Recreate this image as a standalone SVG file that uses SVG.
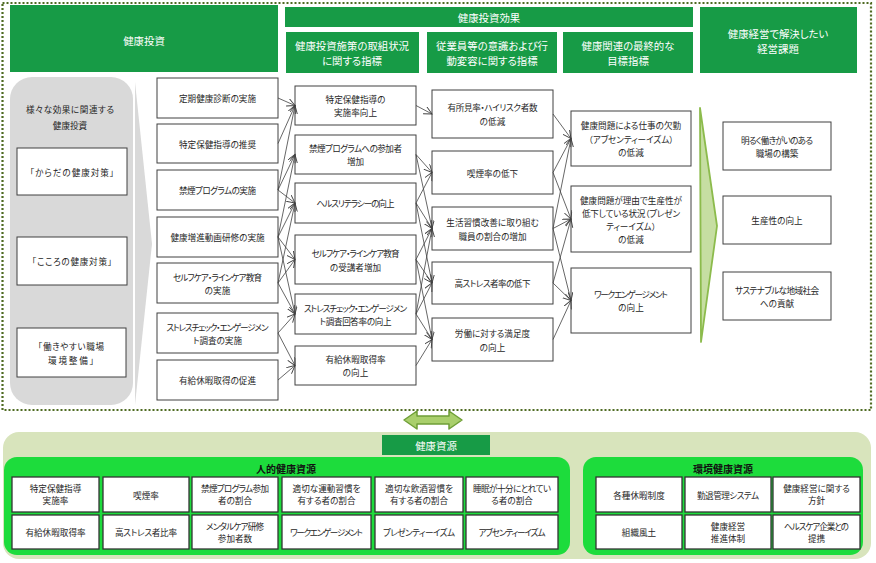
<svg xmlns="http://www.w3.org/2000/svg" width="876" height="563" viewBox="0 0 876 563">
<style>
.bx{fill:#fff;stroke:#404040;stroke-width:1}
.bb{fill:#fff;stroke:#333;stroke-width:1.3}
.hd{fill:#179b46}
.t{font-family:"Noto Sans CJK JP","Noto Sans CJK SC",sans-serif;font-size:8.6px;fill:#262626;text-anchor:middle;dominant-baseline:central;font-feature-settings:"palt"}
.h{font-family:"Noto Sans CJK JP","Noto Sans CJK SC",sans-serif;font-size:10.4px;fill:#fff;text-anchor:middle;dominant-baseline:central;font-feature-settings:"palt"}
.tb{font-family:"Noto Sans CJK JP","Noto Sans CJK SC",sans-serif;font-size:10px;font-weight:bold;fill:#111;text-anchor:middle;dominant-baseline:central}
.cn{stroke:#404040;stroke-width:0.8;fill:none;marker-end:url(#ar)}
</style>
<defs>
<marker id="ar" markerUnits="userSpaceOnUse" markerWidth="10" markerHeight="10" refX="8" refY="4" orient="auto">
<path d="M0,0 L8,4 L0,8" fill="none" stroke="#404040" stroke-width="0.9"/>
</marker>
</defs>
<rect width="876" height="563" fill="#fff"/>

<!-- outer dotted frame -->
<rect x="2.5" y="3" width="868.5" height="407" fill="none" stroke="#4f6b22" stroke-width="2.2" stroke-dasharray="2 2"/>

<!-- headers -->
<g id="h-invest"><rect class="hd" x="10" y="5" width="268" height="67"/><text class="h" x="144" y="40">健康投資</text></g>
<g id="h-effect"><rect class="hd" x="285" y="7" width="408" height="20"/><text class="h" x="489" y="17">健康投資効果</text></g>
<g id="h-sub1"><rect class="hd" x="286" y="32" width="133" height="41"/><text class="h" x="352" y="45">健康投資施策の取組状況</text><text class="h" x="352" y="60">に関する指標</text></g>
<g id="h-sub2"><rect class="hd" x="427" y="32" width="130" height="41"/><text class="h" x="492" y="45">従業員等の意識および行</text><text class="h" x="492" y="60">動変容に関する指標</text></g>
<g id="h-sub3"><rect class="hd" x="563" y="32" width="130" height="41"/><text class="h" x="628" y="45">健康関連の最終的な</text><text class="h" x="628" y="60">目標指標</text></g>
<g id="h-issue"><rect class="hd" x="700" y="7" width="157" height="66"/><text class="h" x="778" y="33">健康経営で解決したい</text><text class="h" x="778" y="48">経営課題</text></g>

<!-- left grey panel -->
<g id="left-panel">
<rect x="10" y="77" width="123" height="328" rx="22" fill="#d9d9d9"/>
<polygon points="135,82 152,244 135,405" fill="#d9d9d9"/>
<text class="t" x="70" y="109" textLength="88">様々な効果に関連する</text>
<text class="t" x="70" y="125">健康投資</text>
</g>
<g id="l1"><rect class="bx" x="17" y="148" width="110" height="47"/><text class="t" x="72" y="171.5" textLength="84">「からだの健康対策」</text></g>
<g id="l2"><rect class="bx" x="17" y="237" width="110" height="48"/><text class="t" x="72" y="261" textLength="80">「こころの健康対策」</text></g>
<g id="l3"><rect class="bx" x="17" y="328" width="109" height="49"/><text class="t" x="71" y="346" textLength="66">「働きやすい職場</text><text class="t" x="71" y="360" textLength="46">環境整備」</text></g>

<!-- column 1 -->
<g id="c1a"><rect class="bx" x="157" y="78" width="121" height="40"/><text class="t" x="217.5" y="98">定期健康診断の実施</text></g>
<g id="c1b"><rect class="bx" x="157" y="124" width="121" height="39"/><text class="t" x="217.5" y="143.5">特定保健指導の推奨</text></g>
<g id="c1c"><rect class="bx" x="157" y="170" width="121" height="40"/><text class="t" x="217.5" y="190" textLength="77">禁煙プログラムの実施</text></g>
<g id="c1d"><rect class="bx" x="157" y="217" width="121" height="40"/><text class="t" x="217.5" y="237">健康増進動画研修の実施</text></g>
<g id="c1e"><rect class="bx" x="157" y="263" width="121" height="40"/><text class="t" x="217.5" y="276.5" textLength="89">セルフケア・ラインケア教育</text><text class="t" x="217.5" y="290">の実施</text></g>
<g id="c1f"><rect class="bx" x="157" y="313" width="121" height="40"/><text class="t" x="217.5" y="326.5" textLength="102">ストレスチェック・エンゲージメン</text><text class="t" x="217.5" y="339.5" textLength="49">ト調査の実施</text></g>
<g id="c1g"><rect class="bx" x="157" y="360" width="121" height="40"/><text class="t" x="217.5" y="380">有給休暇取得の促進</text></g>

<!-- column 2 -->
<g id="c2a"><rect class="bx" x="295" y="86" width="121" height="39"/><text class="t" x="355.5" y="99">特定保健指導の</text><text class="t" x="355.5" y="112">実施率向上</text></g>
<g id="c2b"><rect class="bx" x="295" y="135" width="121" height="39"/><text class="t" x="355.5" y="148" textLength="93">禁煙プログラムへの参加者</text><text class="t" x="355.5" y="161">増加</text></g>
<g id="c2c"><rect class="bx" x="295" y="183" width="121" height="40"/><text class="t" x="355.5" y="203" textLength="78">ヘルスリテラシーの向上</text></g>
<g id="c2d"><rect class="bx" x="295" y="235" width="121" height="49"/><text class="t" x="355.5" y="253" textLength="88">セルフケア・ラインケア教育</text><text class="t" x="355.5" y="267">の受講者増加</text></g>
<g id="c2e"><rect class="bx" x="295" y="294" width="121" height="40"/><text class="t" x="355.5" y="307.5" textLength="103">ストレスチェック・エンゲージメン</text><text class="t" x="355.5" y="320.5" textLength="72">ト調査回答率の向上</text></g>
<g id="c2f"><rect class="bx" x="295" y="346" width="121" height="39"/><text class="t" x="355.5" y="359">有給休暇取得率</text><text class="t" x="355.5" y="372">の向上</text></g>

<!-- column 3 -->
<g id="c3a"><rect class="bx" x="432" y="90" width="121" height="48"/><text class="t" x="492.5" y="107" textLength="90">有所見率・ハイリスク者数</text><text class="t" x="492.5" y="121">の低減</text></g>
<g id="c3b"><rect class="bx" x="432" y="151" width="121" height="43"/><text class="t" x="492.5" y="172.5">喫煙率の低下</text></g>
<g id="c3c"><rect class="bx" x="432" y="207" width="121" height="43"/><text class="t" x="492.5" y="221.5">生活習慣改善に取り組む</text><text class="t" x="492.5" y="235.5">職員の割合の増加</text></g>
<g id="c3d"><rect class="bx" x="432" y="262" width="121" height="42"/><text class="t" x="492.5" y="283" textLength="76">高ストレス者率の低下</text></g>
<g id="c3e"><rect class="bx" x="432" y="318" width="121" height="43"/><text class="t" x="492.5" y="333">労働に対する満足度</text><text class="t" x="492.5" y="347">の向上</text></g>

<!-- column 4 -->
<g id="c4a"><rect class="bx" x="571" y="111" width="120" height="55"/><text class="t" x="631" y="125">健康問題による仕事の欠勤</text><text class="t" x="631" y="138.5" textLength="85">（アブセンティーイズム）</text><text class="t" x="631" y="152">の低減</text></g>
<g id="c4b"><rect class="bx" x="571" y="186" width="120" height="66"/><text class="t" x="631" y="199.5">健康問題が理由で生産性が</text><text class="t" x="631" y="212.5" textLength="98">低下している状況（プレゼン</text><text class="t" x="631" y="225.5" textLength="50">ティーイズム）</text><text class="t" x="631" y="238.5">の低減</text></g>
<g id="c4c"><rect class="bx" x="571" y="268" width="120" height="65"/><text class="t" x="631" y="294" textLength="74">ワークエンゲージメント</text><text class="t" x="631" y="307">の向上</text></g>

<!-- green wedge -->
<polygon id="wedge" points="700,108 717,226 701,342" fill="#c6dea2" stroke="#8cbb4c" stroke-width="1.8" stroke-linejoin="round"/>

<!-- column 5 -->
<g id="c5a"><rect class="bx" x="723" y="122" width="108" height="48"/><text class="t" x="777" y="139.5" textLength="72">明るく働きがいのある</text><text class="t" x="777" y="153">職場の構築</text></g>
<g id="c5b"><rect class="bx" x="723" y="196" width="108" height="48"/><text class="t" x="777" y="220">生産性の向上</text></g>
<g id="c5c"><rect class="bx" x="723" y="272" width="108" height="48"/><text class="t" x="777" y="289.5" textLength="84">サステナブルな地域社会</text><text class="t" x="777" y="303">への貢献</text></g>

<!-- connectors -->
<g id="connectors">
<line class="cn" x1="278" y1="98" x2="295" y2="105.5"/>
<line class="cn" x1="278" y1="143.5" x2="295" y2="105.5"/>
<line class="cn" x1="278" y1="190" x2="295" y2="105.5"/>
<line class="cn" x1="278" y1="190" x2="295" y2="154.5"/>
<line class="cn" x1="278" y1="190" x2="295" y2="203"/>
<line class="cn" x1="278" y1="237" x2="295" y2="154.5"/>
<line class="cn" x1="278" y1="237" x2="295" y2="203"/>
<line class="cn" x1="278" y1="237" x2="295" y2="259.5"/>
<line class="cn" x1="278" y1="237" x2="295" y2="314"/>
<line class="cn" x1="278" y1="283" x2="295" y2="203"/>
<line class="cn" x1="278" y1="283" x2="295" y2="259.5"/>
<line class="cn" x1="278" y1="283" x2="295" y2="314"/>
<line class="cn" x1="278" y1="333" x2="295" y2="314"/>
<line class="cn" x1="278" y1="333" x2="295" y2="365.5"/>
<line class="cn" x1="278" y1="380" x2="295" y2="365.5"/>

<line class="cn" x1="416" y1="105.5" x2="432" y2="114"/>
<line class="cn" x1="416" y1="154.5" x2="432" y2="172.5"/>
<line class="cn" x1="416" y1="154.5" x2="432" y2="228.5"/>
<line class="cn" x1="416" y1="203" x2="432" y2="172.5"/>
<line class="cn" x1="416" y1="203" x2="432" y2="228.5"/>
<line class="cn" x1="416" y1="203" x2="432" y2="283"/>
<line class="cn" x1="416" y1="259.5" x2="432" y2="228.5"/>
<line class="cn" x1="416" y1="259.5" x2="432" y2="283"/>
<line class="cn" x1="416" y1="259.5" x2="432" y2="339.5"/>
<line class="cn" x1="416" y1="314" x2="432" y2="228.5"/>
<line class="cn" x1="416" y1="314" x2="432" y2="283"/>
<line class="cn" x1="416" y1="314" x2="432" y2="339.5"/>
<line class="cn" x1="416" y1="365.5" x2="432" y2="339.5"/>

<line class="cn" x1="553" y1="114" x2="571" y2="138.5"/>
<line class="cn" x1="553" y1="172.5" x2="571" y2="138.5"/>
<line class="cn" x1="553" y1="172.5" x2="571" y2="219"/>
<line class="cn" x1="553" y1="228.5" x2="571" y2="138.5"/>
<line class="cn" x1="553" y1="228.5" x2="571" y2="219"/>
<line class="cn" x1="553" y1="228.5" x2="571" y2="300.5"/>
<line class="cn" x1="553" y1="283" x2="571" y2="219"/>
<line class="cn" x1="553" y1="283" x2="571" y2="300.5"/>
<line class="cn" x1="553" y1="339.5" x2="571" y2="300.5"/>
</g>

<!-- double arrow -->
<polygon id="dbl-arrow" points="404,420 417,411 417,416 449,416 449,411 462,420 449,429 449,424 417,424 417,429" fill="#a9cf6c" stroke="#6f9f37" stroke-width="1.5" stroke-linejoin="round"/>

<!-- resources -->
<g id="resources">
<rect x="3" y="432" width="868" height="127" rx="16" fill="#d8e4bc"/>
<rect class="hd" x="382" y="435" width="108" height="20"/>
<text class="h" x="436" y="445">健康資源</text>
</g>
<g id="human">
<rect x="4" y="457" width="566" height="98" rx="13" fill="#1ddc3c"/>
<text class="tb" x="286" y="468">人的健康資源</text>
</g>
<g id="r1"><rect class="bb" x="12" y="477" width="87" height="35"/><text class="t" x="55.5" y="488">特定保健指導</text><text class="t" x="55.5" y="500">実施率</text></g>
<g id="r2"><rect class="bb" x="103" y="477" width="86" height="35"/><text class="t" x="146" y="494.5">喫煙率</text></g>
<g id="r3"><rect class="bb" x="192" y="477" width="86" height="35"/><text class="t" x="235" y="488" textLength="68">禁煙プログラム参加</text><text class="t" x="235" y="500">者の割合</text></g>
<g id="r4"><rect class="bb" x="282" y="477" width="89" height="35"/><text class="t" x="326.5" y="488">適切な運動習慣を</text><text class="t" x="326.5" y="500">有する者の割合</text></g>
<g id="r5"><rect class="bb" x="375" y="477" width="88" height="35"/><text class="t" x="419" y="488">適切な飲酒習慣を</text><text class="t" x="419" y="500">有する者の割合</text></g>
<g id="r6"><rect class="bb" x="466" y="477" width="92" height="35"/><text class="t" x="512" y="488" textLength="78">睡眠が十分にとれてい</text><text class="t" x="512" y="500">る者の割合</text></g>
<g id="r7"><rect class="bb" x="12" y="515" width="87" height="34"/><text class="t" x="55.5" y="532">有給休暇取得率</text></g>
<g id="r8"><rect class="bb" x="103" y="515" width="86" height="34"/><text class="t" x="146" y="532" textLength="62">高ストレス者比率</text></g>
<g id="r9"><rect class="bb" x="192" y="515" width="86" height="34"/><text class="t" x="235" y="526" textLength="58">メンタルケア研修</text><text class="t" x="235" y="538">参加者数</text></g>
<g id="r10"><rect class="bb" x="282" y="515" width="89" height="34"/><text class="t" x="326.5" y="532" textLength="73">ワークエンゲージメント</text></g>
<g id="r11"><rect class="bb" x="375" y="515" width="88" height="34"/><text class="t" x="419" y="532" textLength="72">プレゼンティーイズム</text></g>
<g id="r12"><rect class="bb" x="466" y="515" width="92" height="34"/><text class="t" x="512" y="532" textLength="67">アブセンティーイズム</text></g>

<g id="env">
<rect x="583" y="457" width="280" height="98" rx="13" fill="#1ddc3c"/>
<text class="tb" x="723" y="468">環境健康資源</text>
</g>
<g id="e1"><rect class="bb" x="596" y="477" width="86" height="35"/><text class="t" x="639" y="494.5">各種休暇制度</text></g>
<g id="e2"><rect class="bb" x="685" y="477" width="86" height="35"/><text class="t" x="728" y="494.5" textLength="62">勤退管理システム</text></g>
<g id="e3"><rect class="bb" x="773" y="477" width="87" height="35"/><text class="t" x="816.5" y="488">健康経営に関する</text><text class="t" x="816.5" y="500">方針</text></g>
<g id="e4"><rect class="bb" x="596" y="515" width="86" height="34"/><text class="t" x="639" y="532">組織風土</text></g>
<g id="e5"><rect class="bb" x="685" y="515" width="86" height="34"/><text class="t" x="728" y="526">健康経営</text><text class="t" x="728" y="538">推進体制</text></g>
<g id="e6"><rect class="bb" x="773" y="515" width="87" height="34"/><text class="t" x="816.5" y="526" textLength="65">ヘルスケア企業との</text><text class="t" x="816.5" y="538">提携</text></g>
</svg>
